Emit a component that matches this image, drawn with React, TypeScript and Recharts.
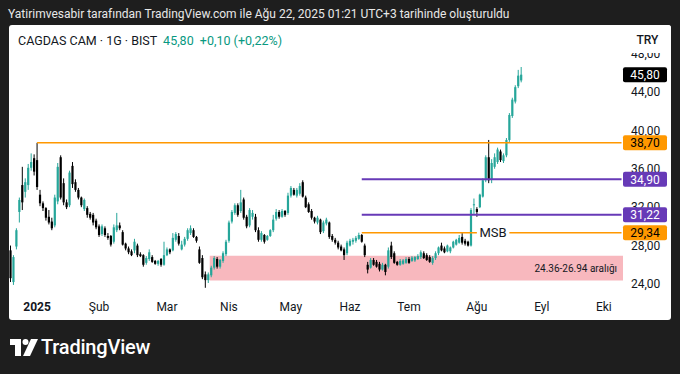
import React from "react";
import { ComposedChart, Bar, XAxis, YAxis, ReferenceLine, ReferenceArea } from "recharts";

// daily candles [open, high, low, close], late Dec 2024 → 22 Aug 2025
const candles: [number, number, number, number][] = [
  [27.5, 28.0, 24.2, 24.6], [24.2, 27.0, 23.9, 26.8], [27.9, 29.8, 27.6, 29.6], [31.5, 33.0, 30.4, 32.75],
  [34.3, 36.2, 31.7, 32.5], [33.6, 35.0, 33.0, 34.6], [34.3, 36.5, 33.8, 36.1], [36.1, 37.6, 35.8, 36.7],
  [37.1, 37.5, 35.3, 35.7], [36.9, 38.7, 33.8, 34.1], [33.3, 33.8, 32.1, 32.4], [32.4, 32.6, 31.6, 31.9],
  [31.9, 32.0, 30.6, 30.9], [31.0, 31.7, 30.2, 30.4], [30.5, 30.9, 29.6, 29.8], [30.1, 33.3, 29.9, 33.0],
  [32.6, 36.6, 32.3, 36.2], [37.2, 37.4, 32.8, 33.0], [34.5, 35.0, 32.2, 32.5], [32.5, 32.8, 31.8, 32.0],
  [32.2, 35.8, 32.0, 35.6], [36.3, 36.7, 34.0, 34.4], [34.6, 34.9, 33.6, 33.8], [33.8, 34.0, 32.8, 33.0],
  [33.0, 33.1, 32.0, 32.2], [31.8, 32.9, 31.6, 32.75], [31.9, 32.1, 30.9, 31.2], [31.3, 31.5, 30.7, 30.9],
  [31.2, 31.4, 30.1, 30.4], [30.6, 30.8, 29.7, 29.9], [30.0, 30.2, 28.9, 29.1], [29.2, 30.2, 29.0, 30.0],
  [29.8, 30.0, 28.9, 29.1], [29.0, 29.3, 28.6, 28.8], [29.0, 29.1, 27.9, 28.1], [28.4, 30.2, 28.2, 29.9],
  [29.6, 31.4, 29.4, 30.1], [30.1, 30.4, 29.6, 29.8], [29.4, 29.6, 28.0, 28.1], [28.2, 28.3, 27.5, 27.7],
  [27.7, 27.9, 27.1, 27.3], [27.4, 27.6, 26.9, 27.0], [27.5, 28.7, 27.2, 28.4], [28.0, 28.2, 26.8, 27.0],
  [27.1, 27.3, 26.8, 26.9], [27.0, 27.1, 25.8, 26.0], [26.2, 26.9, 26.0, 26.7], [26.6, 27.6, 26.4, 27.3],
  [26.8, 27.0, 26.2, 26.3], [26.4, 26.5, 26.0, 26.1], [26.1, 26.5, 25.9, 26.4], [26.6, 26.7, 25.8, 26.0],
  [26.0, 28.4, 25.9, 27.0], [27.0, 27.8, 26.9, 27.6], [27.6, 27.7, 27.1, 27.3], [27.5, 29.3, 27.4, 28.8],
  [28.6, 29.4, 28.4, 29.2], [29.0, 29.3, 28.0, 28.2], [27.6, 28.5, 27.5, 28.1], [28.1, 28.9, 27.9, 28.7],
  [28.7, 29.8, 28.5, 29.6], [29.3, 30.1, 29.1, 29.8], [29.6, 29.8, 28.8, 28.9], [28.9, 29.0, 28.3, 28.5],
  [27.6, 27.9, 26.1, 26.2], [26.7, 27.0, 24.5, 24.7], [25.0, 25.3, 23.6, 24.4], [24.4, 25.2, 24.1, 25.0],
  [24.9, 25.9, 24.7, 25.7], [25.7, 26.9, 25.5, 26.7], [26.6, 26.8, 25.6, 25.8], [25.8, 26.6, 25.6, 26.5],
  [26.4, 27.4, 26.2, 27.2], [27.1, 28.6, 26.9, 28.4], [28.5, 30.6, 28.3, 30.4], [30.5, 31.7, 30.3, 31.5],
  [31.4, 32.4, 31.2, 32.2], [32.2, 32.4, 31.0, 31.2], [31.6, 33.8, 31.4, 32.5], [32.8, 33.0, 30.7, 30.9],
  [31.0, 31.2, 29.8, 30.0], [30.1, 31.9, 29.9, 31.7], [31.0, 31.7, 30.7, 31.4], [31.0, 31.3, 29.4, 29.6],
  [29.6, 29.9, 28.4, 28.6], [28.6, 29.5, 28.4, 29.3], [29.1, 29.2, 28.2, 28.4], [28.6, 29.1, 28.5, 29.0],
  [29.0, 29.7, 28.9, 29.6], [29.6, 31.2, 29.4, 30.7], [30.8, 31.8, 30.6, 31.5], [31.5, 31.7, 30.8, 31.0],
  [31.0, 31.8, 30.9, 31.6], [31.6, 31.7, 31.0, 31.2], [31.4, 33.5, 31.2, 33.2], [33.2, 34.2, 33.0, 34.0],
  [33.8, 34.0, 33.2, 33.3], [33.2, 34.0, 33.0, 33.8], [33.4, 34.5, 33.2, 34.2], [34.6, 34.8, 33.0, 33.1],
  [33.0, 33.2, 31.9, 32.0], [32.3, 32.5, 31.4, 31.5], [31.6, 31.8, 30.7, 30.9], [30.9, 31.0, 30.3, 30.5],
  [30.4, 31.1, 30.2, 30.9], [30.7, 30.8, 29.2, 29.4], [29.5, 30.6, 29.3, 30.4], [30.3, 30.9, 30.1, 30.7],
  [30.4, 30.5, 28.7, 28.9], [29.0, 29.2, 28.4, 28.6], [28.6, 28.8, 28.1, 28.3], [28.3, 28.5, 27.6, 27.8],
  [27.9, 28.1, 27.4, 27.5], [27.6, 27.8, 26.5, 27.0], [27.2, 28.5, 27.0, 28.3], [28.0, 28.7, 27.9, 28.5],
  [28.4, 28.8, 28.1, 28.6], [28.5, 29.0, 28.3, 28.8], [28.7, 29.34, 28.6, 29.1], [29.1, 29.2, 28.3, 28.4],
  [28.0, 28.2, 26.8, 27.0], [26.0, 26.3, 25.1, 25.5], [25.7, 26.7, 25.6, 26.5], [26.5, 26.7, 25.9, 26.0],
  [26.3, 26.5, 25.7, 25.8], [26.1, 26.3, 25.3, 25.5], [25.5, 26.2, 25.4, 26.0], [26.0, 26.1, 24.9, 25.25],
  [25.8, 27.8, 25.6, 27.5], [28.0, 28.4, 26.6, 26.8], [27.2, 27.4, 26.1, 26.2], [26.3, 26.4, 25.9, 26.0],
  [26.0, 26.6, 25.9, 26.4], [26.1, 26.6, 26.0, 26.45], [26.2, 26.8, 26.1, 26.6], [26.6, 26.8, 26.1, 26.2],
  [26.4, 26.9, 26.3, 26.75], [26.45, 26.9, 26.3, 26.8], [26.6, 27.1, 26.5, 26.9], [26.8, 27.5, 26.6, 27.3],
  [27.2, 27.4, 26.6, 26.7], [27.0, 27.2, 26.4, 26.5], [26.8, 27.0, 26.2, 26.3], [26.2, 26.9, 26.0, 26.7],
  [26.7, 27.4, 26.5, 27.2], [27.2, 27.9, 27.0, 27.8], [28.0, 28.3, 27.4, 27.5], [27.7, 27.9, 27.2, 27.3],
  [27.4, 28.1, 27.3, 28.0], [27.4, 27.9, 27.2, 27.8], [27.8, 28.5, 27.7, 28.4], [28.1, 28.7, 28.0, 28.6],
  [28.3, 29.1, 28.2, 28.8], [28.9, 29.3, 28.1, 28.3], [28.5, 28.7, 28.0, 28.2], [28.4, 28.5, 27.9, 28.0],
  [28.0, 31.9, 27.9, 31.7], [32.2, 32.9, 31.3, 32.3], [31.8, 32.0, 31.0, 31.5], [32.0, 33.4, 31.9, 33.3],
  [33.1, 35.0, 33.0, 34.8], [34.8, 37.4, 34.6, 37.2], [37.2, 39.0, 34.5, 34.8], [34.9, 37.0, 34.5, 36.6],
  [36.2, 37.6, 36.0, 37.2], [36.7, 38.2, 36.5, 38.0], [37.8, 38.0, 36.7, 36.9], [36.8, 37.6, 36.6, 37.4],
  [37.4, 39.2, 37.2, 39.0], [39.0, 41.8, 38.8, 41.6], [41.5, 43.4, 41.3, 43.2], [43.0, 44.7, 42.8, 44.5],
  [44.6, 46.3, 44.4, 45.7], [45.2, 46.6, 45.0, 45.8],
];

const SLOTS = 208; // candles + empty future days up to the price scale
const monthTicks = [9, 30, 53, 74, 95, 115, 135, 158, 180, 201];
const monthLabels = ["2025", "Şub", "Mar", "Nis", "May", "Haz", "Tem", "Ağu", "Eyl", "Eki"];
const priceTicks = [24, 28, 32, 36, 40, 44, 48];

const lastPrice = 45.8;
const orangeLevels = [38.7, 29.34];
const orangeFrom = [9, 119];
const purpleLevels = [34.9, 31.22];
const purpleFrom = [119, 119];
const zone = [24.36, 26.94];
const zoneFrom = 68;
const msbGap = [158, 169];

const UP = "#26a69a";
const DOWN = "#000000";
const ORANGE = "#ff9800";
const PURPLE = "#673ab7";
const TEXT = "#131722";
const FONT = "Roboto, 'Noto Sans', sans-serif";

const data = Array.from({ length: SLOTS }, (_, i) => {
  const r = candles[i];
  return r ? { i, o: r[0], h: r[1], l: r[2], c: r[3] } : { i };
});

const fmt = (v: number) => v.toFixed(2).replace(".", ",");

const tags: Record<string, { bg: string; fg: string }> = {
  [fmt(lastPrice)]: { bg: "#000", fg: "#fff" },
};
orangeLevels.forEach((v) => (tags[fmt(v)] = { bg: ORANGE, fg: "#000" }));
purpleLevels.forEach((v) => (tags[fmt(v)] = { bg: PURPLE, fg: "#fff" }));

function Candle(props: any) {
  const { x, y, width, height, payload } = props;
  if (!payload || payload.h == null) return null;
  const { o, h, l, c } = payload;
  const top = Math.min(y, y + height);
  const span = Math.abs(height);
  const py = (v: number) => (h === l ? top : top + ((h - v) / (h - l)) * span);
  const color = c >= o ? UP : DOWN;
  const cx = x + width / 2;
  const bTop = py(Math.max(o, c));
  const bH = Math.max(1, py(Math.min(o, c)) - bTop);
  return (
    <g>
      <line x1={cx} x2={cx} y1={top} y2={top + span} stroke={color} strokeWidth={1} />
      <rect x={cx - 1.1} y={bTop} width={2.2} height={bH} fill={color} />
    </g>
  );
}

function PriceTick(props: any) {
  const { x, y, payload } = props;
  const label = fmt(payload.value);
  const tag = tags[label];
  if (!tag) {
    return (
      <text x={x} y={y} dy="0.35em" fontSize={12} fill={TEXT} fontFamily={FONT}>
        {label}
      </text>
    );
  }
  return (
    <g>
      <rect x={x - 8} y={y - 7.5} width={44} height={15} rx={2} fill={tag.bg} />
      <text x={x + 14} y={y} dy="0.35em" textAnchor="middle" fontSize={12} fill={tag.fg} fontFamily={FONT}>
        {label}
      </text>
    </g>
  );
}

function MonthTick(props: any) {
  const { x, y, payload } = props;
  const k = monthTicks.indexOf(payload.value);
  return (
    <text x={x} y={y} dy="0.71em" textAnchor="middle" fontSize={12} fontWeight={k === 0 ? 700 : 400} fill={TEXT} fontFamily={FONT}>
      {monthLabels[k]}
    </text>
  );
}

export default function App() {
  const last = SLOTS - 1;
  return (
    <div style={{ position: "fixed", left: 0, top: 0, width: 680, height: 374, background: "#1e1e1e", fontFamily: FONT, overflow: "hidden" }}>
      <div style={{ position: "absolute", left: 8, top: 7, color: "#e8e8e8", fontSize: 12 }}>
        Yatirimvesabir tarafından TradingView.com ile Ağu 22, 2025 01:21 UTC+3 tarihinde oluşturuldu
      </div>
      <div style={{ position: "absolute", left: 9, top: 25, width: 662, height: 295, background: "#fff", borderRadius: 3 }}>
        <ComposedChart width={662} height={295} data={data} margin={{ top: 13.2, right: 0, bottom: 0, left: 0 }} barCategoryGap={0}>
          <XAxis
            dataKey="i"
            type="category"
            ticks={monthTicks}
            interval={0}
            tickLine={false}
            axisLine={false}
            tickSize={0}
            tickMargin={5}
            height={22.6}
            tick={<MonthTick />}
          />
          <YAxis
            orientation="right"
            type="number"
            domain={[22.6, 49.6]}
            allowDataOverflow
            ticks={[...priceTicks, ...orangeLevels, ...purpleLevels, lastPrice]}
            interval={0}
            width={48}
            tickLine={false}
            axisLine={false}
            tickSize={0}
            tickMargin={8}
            tick={<PriceTick />}
          />
          <ReferenceArea
            x1={zoneFrom}
            x2={last}
            y1={zone[0]}
            y2={zone[1]}
            fill="#f8b8be"
            fillOpacity={1}
            stroke="none"
            label={{ value: "24.36-26.94 aralığı", position: "insideRight", offset: 6, fontSize: 10, fill: TEXT, fontFamily: FONT }}
          />
          {purpleLevels.map((v, k) => (
            <ReferenceLine key={"p" + k} segment={[{ x: purpleFrom[k], y: v }, { x: last, y: v }]} stroke={PURPLE} strokeWidth={2} />
          ))}
          <ReferenceLine segment={[{ x: orangeFrom[0], y: orangeLevels[0] }, { x: last, y: orangeLevels[0] }]} stroke={ORANGE} strokeWidth={1.5} />
          <ReferenceLine segment={[{ x: orangeFrom[1], y: orangeLevels[1] }, { x: msbGap[0], y: orangeLevels[1] }]} stroke={ORANGE} strokeWidth={1.5} />
          <ReferenceLine segment={[{ x: msbGap[1], y: orangeLevels[1] }, { x: last, y: orangeLevels[1] }]} stroke={ORANGE} strokeWidth={1.5} />
          <ReferenceLine
            segment={[{ x: msbGap[0], y: orangeLevels[1] }, { x: msbGap[1], y: orangeLevels[1] }]}
            stroke="none"
            label={{ value: "MSB", position: "center", fontSize: 13, fill: TEXT, fontFamily: FONT }}
          />
          <Bar
            dataKey={(d: any) => (d.h == null ? null : [d.l, d.h])}
            shape={(p: any) => <Candle {...p} />}
            isAnimationActive={false}
          />
        </ComposedChart>
        <div style={{ position: "absolute", left: 9, top: 8, fontSize: 12.5, color: TEXT, whiteSpace: "nowrap" }}>
          CAGDAS CAM · 1G · BIST{" "}
          <span style={{ color: "#089981", marginLeft: 3 }}>45,80&nbsp;&nbsp;+0,10 (+0,22%)</span>
        </div>
        <div style={{ position: "absolute", left: 615, top: 0, width: 47, height: 28, background: "#fff", borderRadius: 3 }}>
          <div style={{ position: "absolute", left: 0, width: 47, top: 8, textAlign: "center", fontSize: 12, fontWeight: 500, color: TEXT }}>
            TRY
          </div>
        </div>
      </div>
      <svg style={{ position: "absolute", left: 10, top: 339 }} width={30} height={18}>
        <path d="M0 0 H11 V17 H5 V6 H0 Z" fill="#fff" />
        <circle cx={15.5} cy={3} r={3} fill="#fff" />
        <path d="M21 0 H28 L20 17 H13 Z" fill="#fff" />
      </svg>
      <div style={{ position: "absolute", left: 41, top: 335, color: "#fff", fontSize: 20, fontWeight: 500, letterSpacing: -0.2 }}>
        TradingView
      </div>
    </div>
  );
}
